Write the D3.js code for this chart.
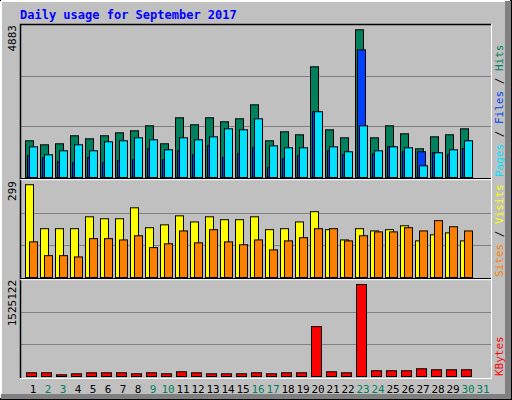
<!DOCTYPE html>
<html><head><meta charset="utf-8">
<script src="https://cdn.jsdelivr.net/npm/d3@7"></script>
<style>body{margin:0;background:#fff}svg{display:block}text{font-family:"DejaVu Sans Mono",monospace}</style>
</head><body><svg id="c" width="512" height="400"></svg>
<script>
const days = d3.range(1, 32);
const weekend = [2,3,9,10,16,17,23,24,30,31];
const hits  = [1179,1050,1083,1340,1243,1340,1436,1500,1661,1083,1918,1693,1918,1789,1886,2335,1179,1468,1372,3556,1532,1275,4745,1275,1661,1404,922,1307,1372,1564,0];
const files = [697,633,504,472,633,472,536,568,922,568,858,729,1018,633,761,954,312,601,697,2111,858,729,4101,761,986,826,826,794,729,922,0];
const pages = [986,729,858,1050,858,1147,1179,1275,1211,890,1275,1211,1307,1564,1532,1886,1018,954,954,2111,986,826,1661,858,986,954,376,794,890,1179,0];
const visits= [289,152,152,152,189,183,183,217,155,164,192,173,189,180,180,189,149,152,173,205,149,117,152,145,149,161,114,133,139,114,0];
const sites = [111,68,68,64,121,121,117,130,93,105,145,108,149,111,102,117,86,114,124,152,152,114,130,142,142,155,145,177,158,145,0];
const kbytes= [59000,59000,27000,43000,59000,59000,59000,43000,59000,43000,75000,59000,43000,43000,43000,59000,43000,59000,59000,792000,75000,59000,1461000,91000,91000,91000,123000,107000,107000,107000,0];
const maxLabels = ["4883","299","1525122"];

const svg = d3.select("#c");
svg.append("rect").attr("width",512).attr("height",400).attr("fill","#c0c0c0");
// bevel
svg.append("rect").attr("x",0.5).attr("y",0.5).attr("width",511).attr("height",399).attr("fill","none").attr("stroke","#000");
svg.append("path").attr("d","M1,1H510M1,1V398").attr("stroke","#fff").attr("stroke-width",2);
svg.append("rect").attr("x",505).attr("y",1).attr("width",6).attr("height",398).attr("fill","#808080");
svg.append("rect").attr("x",1).attr("y",394).attr("width",510).attr("height",5).attr("fill","#808080");

svg.append("text").attr("x",20).attr("y",19).attr("fill","#0000ff").attr("font-weight","bold").attr("font-size",12).text("Daily usage for September 2017");

const x = d3.scaleLinear().domain([1,32]).range([25,490]);
const panels = [
  {top:25,bot:177,max:4883,label:maxLabels[0]},
  {top:181,bot:277,max:299,label:maxLabels[1]},
  {top:280,bot:376,max:1525122,label:maxLabels[2]}
];
const L=20,R=491;
panels.forEach(p=>{
  p.y = d3.scaleLinear().domain([0,p.max]).range([p.bot,p.top]);
  [1,2].forEach(k=>{
    const gy = Math.round(p.bot-(p.bot-p.top)*k/3)+0.5;
    svg.append("line").attr("x1",L).attr("x2",R).attr("y1",gy).attr("y2",gy).attr("stroke","#808080");
  });
  svg.append("text").attr("transform",`translate(16,${p.top}) rotate(-90)`).attr("text-anchor","end").attr("font-size",11).attr("font-family","DejaVu Sans").text(p.label);
});
// panel frames
svg.append("path").attr("d",`M${L+0.5},378V24.5H${R}`).attr("fill","none").attr("stroke","#000").attr("stroke-width",1.5);
svg.append("path").attr("d",`M${R+0.5},24V378.5H${L}`).attr("fill","none").attr("stroke","#fff");
[178.5,278.5].forEach(yy=>{
  svg.append("line").attr("x1",L).attr("x2",R).attr("y1",yy).attr("y2",yy).attr("stroke","#000");
  svg.append("line").attr("x1",L).attr("x2",R).attr("y1",yy+1.2).attr("y2",yy+1.2).attr("stroke","#fff");
});

function bars(data, p, off, w, col){
  svg.append("g").selectAll("rect").data(days.filter((d,i)=>data[i]>0)).join("rect")
    .attr("x",d=>x(d)+off+0.5).attr("width",w)
    .attr("y",d=>p.y(data[d-1])+0.5).attr("height",d=>p.bot-p.y(data[d-1]))
    .attr("fill",col).attr("stroke","#000").attr("stroke-width",1);
}
bars(hits,panels[0],0,8,"#00805c");
bars(files,panels[0],2,8,"#0040ff");
bars(pages,panels[0],4,8,"#00e0ff");
bars(visits,panels[1],0,8,"#ffff00");
bars(sites,panels[1],4,8,"#ff8000");
bars(kbytes,panels[2],1,10,"#ff0000");

svg.append("g").selectAll("text").data(days).join("text")
  .attr("x",d=>x(d)+8).attr("y",393).attr("text-anchor","middle").attr("font-size",11).attr("font-family","DejaVu Sans")
  .attr("fill",d=>weekend.includes(d)?"#00805c":"#000").text(d=>d);

function vlabel(parts, yBottom){
  const t = svg.append("text").attr("transform",`translate(503,${yBottom}) rotate(-90)`).attr("font-size",11);
  parts.forEach(([s,c])=>t.append("tspan").attr("fill",c).text(s));
}
vlabel([["Pages","#00e0ff"],[" / ","#000"],["Files","#0040ff"],[" / ","#000"],["Hits","#00805c"]],177);
vlabel([["Sites","#ff8000"],[" / ","#000"],["Visits","#ffff00"]],277);
vlabel([["KBytes","#ff0000"]],376);
</script></body></html>
